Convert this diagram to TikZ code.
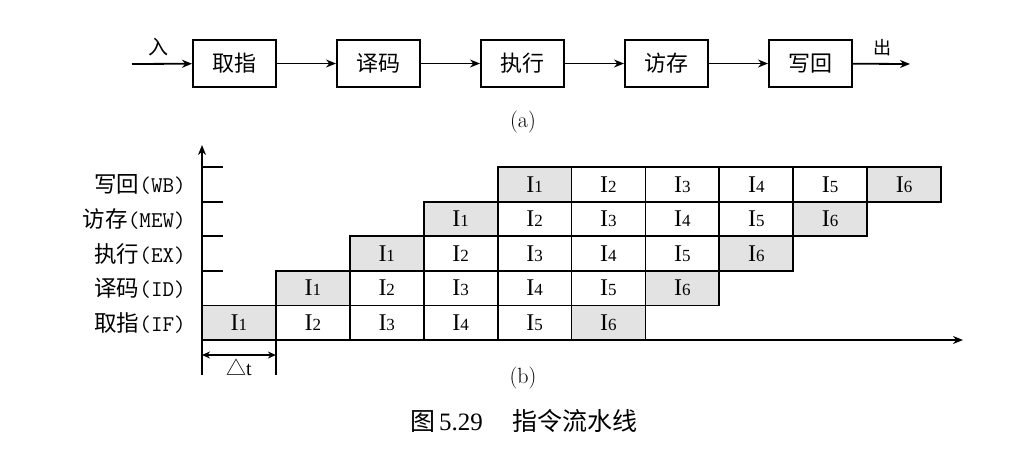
\documentclass[tikz,border=0pt]{standalone}
\usepackage{fontspec}
\setmainfont{Liberation Serif}
\newfontfamily\cjk{Noto Sans CJK SC}
\newfontfamily\lmr{Latin Modern Roman}
\newfontfamily\lmtt{Latin Modern Mono}
\usetikzlibrary{arrows.meta}
\newcommand{\Ins}[1]{{\fontsize{24}{24}\selectfont I\fontsize{17}{17}\selectfont #1}}
\begin{document}
\begin{tikzpicture}[x=1pt,y=-1pt,
  stagebox/.style={draw,line width=2pt,minimum width=83pt,minimum height=47pt,inner sep=0pt,font=\cjk\fontsize{22}{22}\selectfont},
  cell/.style={draw,line width=1.8pt,minimum width=73.9pt,minimum height=34.6pt,inner sep=0pt,fill=white},
  gcell/.style={cell,fill=black!11},
  conn/.style={line width=1.8pt,-{Stealth[length=10pt,width=8pt]}},
  axis/.style={line width=1.8pt},
  rowlab/.style={anchor=east,inner sep=0pt,font=\fontsize{22.5}{22.5}\selectfont},
  sublab/.style={inner sep=0pt,font=\lmr\fontsize{22}{22}\selectfont}]
\useasboundingbox (0,0) rectangle (1010,451);
% (a) pipeline stages
\coordinate (in) at (132,64);
\coordinate (out) at (910,64);
\node[stagebox] (b1) at (234.5,63.5) {取指};
\node[stagebox] (b2) at (378.5,63.5) {译码};
\node[stagebox] (b3) at (522.5,63.5) {执行};
\node[stagebox] (b4) at (666.5,63.5) {访存};
\node[stagebox] (b5) at (810.5,63.5) {写回};
\draw[conn] (in) -- (b1);
\draw[conn] (b1) -- (b2);
\draw[conn] (b2) -- (b3);
\draw[conn] (b3) -- (b4);
\draw[conn] (b4) -- (b5);
\draw[conn] (b5) -- (out);
\node[inner sep=0pt,font=\cjk\fontsize{20}{20}\selectfont] (inl) at (158,47) {入};
\node[inner sep=0pt,font=\cjk\fontsize{18}{18}\selectfont] (outl) at (882,48) {出};
\node[sublab] (la) at (523,122) {(a)};
% (b) space-time diagram
\foreach \r in {0,...,4}{
  \foreach \i in {1,...,6}{
    \pgfmathtruncatemacro{\c}{\r+\i-1}
    \ifnum\i=1 \def\st{gcell}\else\ifnum\i=6 \def\st{gcell}\else\def\st{cell}\fi\fi
    \node[\st] (c\r\i) at ({202+73.9*(\c+0.5)},{340-34.6*(\r+0.5)}) {\Ins{\i}};
  }
}
\coordinate (O) at (202,340);
\coordinate (ytop) at (202,145);
\coordinate (ybot) at (202,375);
\coordinate (xend) at (963,340);
\coordinate (t1) at (275.9,340);
\coordinate (t1b) at (275.9,375);
\draw[axis,-{Stealth[length=10pt,width=8pt]}] (ybot) -- (ytop);
\draw[axis,-{Stealth[length=10pt,width=8pt]}] (O) -- (xend);
\draw[axis] (t1) -- (t1b);
\foreach \k in {1,2,3,4}{
  \draw[axis] (202,{340-34.6*(\k+1)}) -- ++(21,0);
}
\coordinate (da) at (202,355);
\coordinate (db) at (275.9,355);
\draw[line width=1.5pt,{Stealth[length=8pt,width=7pt]}-{Stealth[length=8pt,width=7pt]}] (da) -- (db);
\node[inner sep=0pt,font=\fontsize{20}{20}\selectfont] (dt) at (239,367) {{\cjk △}t};
\node[rowlab] (l0) at (186,322.7) {{\cjk 取指}{\lmtt (IF)}};
\node[rowlab] (l1) at (186,288.1) {{\cjk 译码}{\lmtt (ID)}};
\node[rowlab] (l2) at (186,253.5) {{\cjk 执行}{\lmtt (EX)}};
\node[rowlab] (l3) at (186,218.9) {{\cjk 访存}{\lmtt (MEW)}};
\node[rowlab] (l4) at (186,184.3) {{\cjk 写回}{\lmtt (WB)}};
\node[sublab] (lb) at (523,378) {(b)};
\node[inner sep=0pt,font=\fontsize{25}{25}\selectfont] (caption) at (524,421) {{\cjk 图}\,5.29\hspace{1.2em}{\cjk 指令流水线}};
\end{tikzpicture}
\end{document}
